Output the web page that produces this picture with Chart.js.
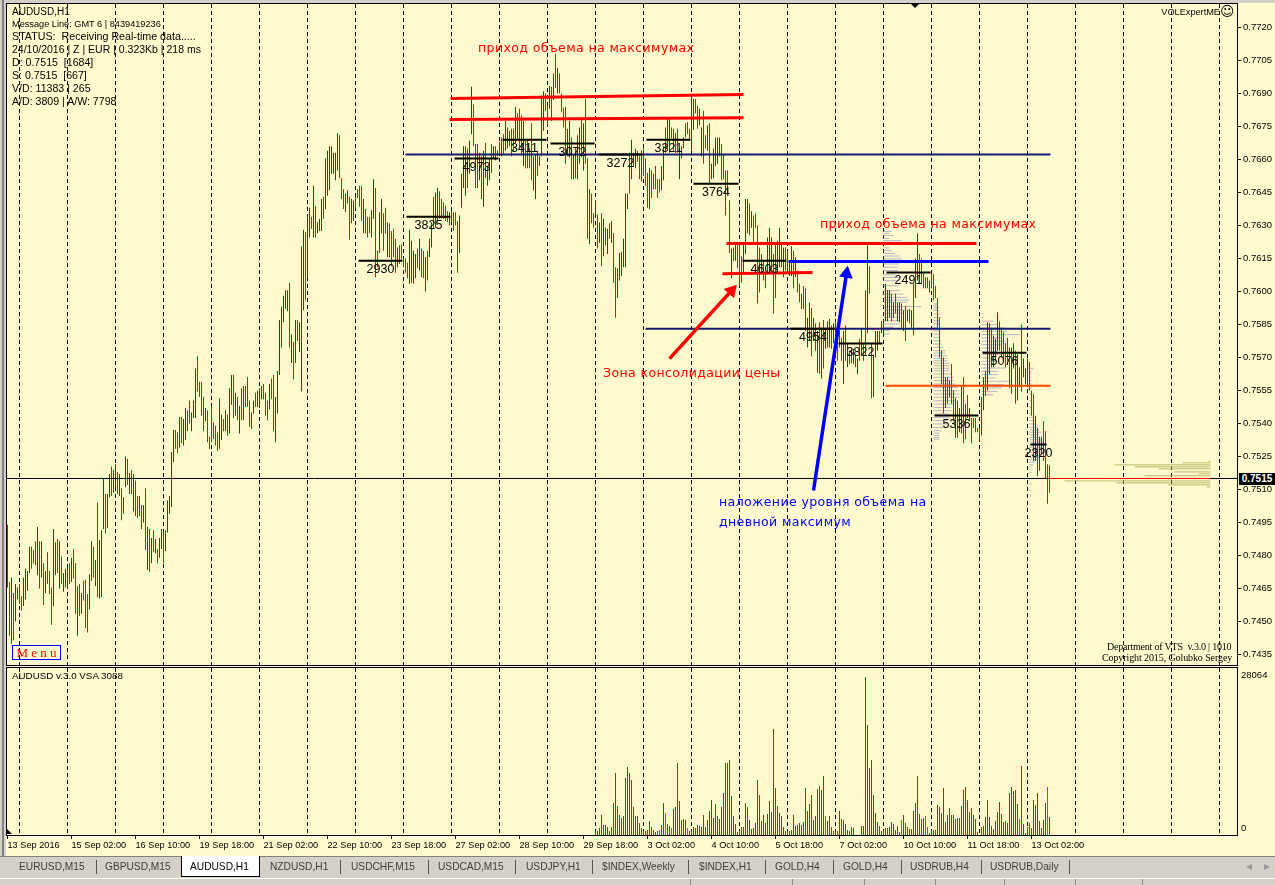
<!DOCTYPE html>
<html>
<head>
<meta charset="utf-8">
<title>AUDUSD,H1</title>
<script src="https://cdn.jsdelivr.net/npm/chart.js@4"></script>
<style>
body { margin: 0; width: 1275px; height: 885px; overflow: hidden; position: relative; background: #d4d0c8; font-family: "Liberation Sans", sans-serif; }
canvas { position: absolute; left: 0; }
#paper { position: absolute; left: 6px; top: 3px; width: 1269px; height: 853px; background: #fffacd; }
#edge { position: absolute; left: 2px; top: 0; width: 2px; height: 856px; background: #808080; }
.frame { position: absolute; left: 6px; width: 1230px; border: 1px solid #000; pointer-events: none; }
.t { position: absolute; white-space: pre; color: #000; line-height: 1; }
.note { font-family: "DejaVu Sans", sans-serif; font-size: 12.5px; letter-spacing: 0.4px; }
.tab { position: absolute; top: 861px; font-size: 10.2px; color: #404040; white-space: pre; }
.sep { position: absolute; top: 860px; width: 1px; height: 14px; background: #555; }
.sep2 { position: absolute; top: 879px; width: 1px; height: 6px; background: #888; }
.activeTab { position: absolute; left: 181px; top: 856px; width: 77px; height: 20px; background: #fff; border: 1px solid #000; border-top: none; }
</style>
</head>
<body>
<div id="edge"></div>
<div id="paper"></div>
<canvas id="mainChart" width="1275" height="666" style="top:0"></canvas>
<canvas id="volChart" width="1275" height="218" style="top:667px"></canvas>
<div class="frame" style="top:3px;height:661px"></div>
<div class="frame" style="top:667px;height:167px"></div>
<div id="overlay"></div>
<script>
// hourly bars, price in 1/100000
const barHigh = [
74940,74680,74700,74630,74670,74655,74670,74615,74700,74740,
74730,74840,74840,74825,74865,74930,74865,74865,74765,74730,
74815,74730,74655,74920,74860,74875,74865,74795,74720,74740,
74745,74765,74790,74830,74765,74660,74670,74630,74685,74690,
74625,74715,74865,74840,74780,75040,74870,74915,75150,75080,
75080,75170,75205,75190,75215,75180,75170,75105,75065,75250,
75240,75175,75190,75170,75140,75070,75070,75030,75030,75105,
74930,74920,74880,74915,74875,74830,74880,74920,74905,74915,
75050,75070,75270,75370,75370,75360,75430,75430,75420,75470,
75460,75505,75450,75505,75650,75705,75590,75590,75520,75470,
75460,75340,75480,75405,75390,75360,75515,75440,75420,75460,
75440,75560,75620,75620,75540,75520,75480,75560,75570,75570,
75610,75505,75450,75505,75540,75550,75560,75570,75580,75540,
75505,75580,75605,75620,75520,75640,75870,75930,75980,76005,
76005,76040,75805,75770,75870,75870,75860,76205,76280,76270,
76345,76380,76340,76480,76390,76315,76330,76420,76430,76605,
76640,76660,76660,76630,76630,76720,76710,76515,76465,76445,
76460,76430,76420,76415,76430,76465,76480,76480,76420,76375,
76340,76340,76370,76510,76470,76185,76360,76420,76355,76380,
76315,76310,76275,76285,76240,76200,76210,76215,76150,76150,
76130,76280,76230,76185,76170,76195,76240,76195,76185,76155,
76185,76240,76315,76430,76450,76470,76455,76420,76405,76390,
76365,76360,76365,76360,76360,76320,76345,76535,76660,76660,
76650,76685,76930,76850,76670,76670,76630,76615,76640,76675,
76570,76605,76670,76660,76660,76640,76680,76700,76715,76775,
76745,76730,76740,76740,76840,76810,76830,76800,76775,76685,
76685,76650,76765,76615,76625,76640,76615,76890,76910,76900,
76845,76935,76930,76990,77080,77015,76990,76900,76835,76840,
76740,76775,76700,76625,76655,76710,76745,76785,76765,76875,
76605,76465,76445,76355,76415,76350,76315,76355,76330,76290,
76285,76310,76320,76265,76110,76105,76175,76180,76240,76445,
76445,76630,76690,76630,76650,76640,76615,76640,76650,76605,
76540,76560,76550,76535,76570,76510,76510,76570,76660,76745,
76785,76785,76745,76740,76720,76740,76650,76660,76700,76765,
76770,76740,76880,76875,76875,76845,76830,76745,76820,76710,
76755,76765,76580,76650,76700,76700,76700,76670,76625,76550,
76550,76415,76195,76200,76215,76220,76215,76160,76215,76420,
76420,76400,76365,76345,76355,76300,76200,76170,76140,76080,
76245,76290,76245,76170,76220,76230,76290,76220,76200,76200,
76185,76140,76205,76185,76155,76095,76035,75990,76025,76015,
75880,75950,75925,75880,75855,75820,75860,75835,75870,75830,
75865,75875,75845,75855,75865,75835,75820,75790,75820,75845,
75765,75730,75740,75740,75710,75695,75785,75830,75765,76005,
76210,76115,75765,75715,75820,75820,75820,75865,75855,76035,
76005,76005,75990,75950,75990,75950,75950,75945,75915,75935,
75915,75920,75915,76035,76150,76265,76170,76150,76080,76065,
76065,76050,76080,76080,76025,75970,75880,75730,75700,75610,
75610,75595,75670,75550,75515,75505,75470,75570,75610,75490,
75530,75470,75425,75425,75425,75380,75380,75520,75610,75640,
75860,75855,75835,75800,75785,75905,75865,75835,75815,75765,
75790,75745,75745,75765,75730,75715,75655,75850,75695,75650,
75695,75680,75550,75535,75435,75380,75340,75340,75410,75365,
75215,75210];
const barLow = [
74655,74435,74400,74415,74500,74600,74580,74550,74570,74600,
74640,74720,74740,74765,74755,74710,74650,74700,74575,74630,
74670,74625,74485,74570,74710,74720,74650,74670,74635,74655,
74650,74670,74680,74695,74535,74435,74525,74535,74595,74470,
74450,74555,74685,74700,74660,74610,74605,74610,74920,74900,
74925,75065,75070,75085,75110,75080,75070,74960,74990,75110,
75120,75080,75080,75000,74980,74970,74980,74920,74950,74825,
74735,74725,74765,74815,74810,74765,74790,74830,74765,74820,
74905,74990,75020,75225,75285,75265,75290,75310,75300,75325,
75365,75400,75365,75425,75425,75545,75520,75435,75365,75410,
75315,75285,75315,75330,75300,75275,75285,75325,75365,75365,
75345,75355,75485,75425,75435,75415,75355,75415,75415,75475,
75475,75385,75375,75445,75475,75475,75470,75510,75510,75435,
75415,75465,75510,75365,75315,75445,75620,75745,75860,75920,
75910,75745,75675,75600,75675,75775,75725,75545,75915,75960,
76060,76245,76285,76245,76245,76265,76275,76275,76330,76375,
76435,76460,76535,76535,76505,76550,76515,76420,76375,76360,
76400,76235,76310,76320,76380,76425,76385,76320,76265,76265,
76245,76265,76245,76330,76065,76110,76175,76265,76185,76265,
76155,76155,76115,76155,76085,76110,76125,76145,76110,76085,
76060,76035,76040,76035,76060,76105,76095,76065,76060,76000,
76050,76155,76200,76285,76290,76315,76330,76330,76330,76320,
76315,76300,76315,76275,76300,76085,76175,76380,76470,76435,
76470,76535,76715,76660,76470,76470,76505,76420,76385,76515,
76480,76505,76540,76605,76595,76615,76615,76615,76625,76640,
76650,76660,76615,76640,76675,76685,76655,76625,76570,76560,
76560,76560,76505,76460,76420,76525,76570,76615,76730,76820,
76755,76830,76775,76870,76925,76900,76900,76815,76745,76580,
76615,76610,76510,76510,76515,76510,76580,76610,76550,76580,
76240,76215,76310,76290,76345,76195,76220,76115,76160,76210,
76170,76240,76220,76040,75880,75970,76050,76070,76110,76110,
76375,76445,76510,76570,76560,76590,76510,76500,76525,76480,
76380,76375,76425,76465,76465,76425,76450,76460,76505,76630,
76650,76630,76695,76640,76630,76630,76510,76605,76650,76700,
76715,76685,76640,76735,76810,76740,76755,76615,76580,76650,
76640,76490,76510,76515,76570,76580,76615,76505,76510,76345,
76450,76175,76060,76140,76140,76105,76025,76040,76080,76170,
76265,76255,76290,76215,76290,75945,75995,76080,76050,76015,
76080,76080,76080,75900,75970,76080,76110,76110,76065,76095,
76080,76070,76070,76015,76065,75995,75950,75920,75920,75820,
75745,75775,75705,75775,75730,75630,75625,75605,75650,75740,
75745,75745,75740,75765,75790,75685,75745,75685,75580,75685,
75655,75670,75675,75670,75655,75625,75685,75710,75685,75710,
75810,75990,75515,75520,75700,75730,75765,75810,75810,75865,
75865,75880,75865,75880,75900,75865,75860,75835,75820,75775,
75865,75855,75835,75800,75970,76050,76065,76035,76015,76015,
76015,75995,76015,75960,75970,75835,75700,75580,75445,75470,
75490,75520,75490,75410,75335,75335,75360,75355,75310,75330,
75425,75410,75310,75380,75360,75360,75320,75345,75460,75525,
75550,75625,75655,75655,75685,75730,75730,75700,75685,75655,
75685,75560,75535,75650,75490,75505,75565,75545,75610,75580,
75565,75550,75435,75230,75230,75160,75185,75260,75230,75150,
75035,75085];
// g = up bar, r = down bar
const barDir = ("rrgrggrrgg ggrrrgrgrg rrrggrgrgg grgrrgrgrr rggrgrgggr ggrggrgrgg rgrgrrgrgr grgrgrggrg " +
  "ggggrrgrgg rrgggrrrrg rrrrrrggrg rggrgrgrgr rrggrgggrr rgrrgggggg grgrgrgggr ggrgrgggrg " +
  "ggggggrrrg grggrgrrgr rrggrrggrr grrrrgrrrr rggggrgrrg rggrggrrrr rggrrrgggg rggrrrgrgr " +
  "ggrgrgrgrg grrrggrrgr rrrggrgggr rgrgrgrrrr ggrgrggrgr rgrrgrgrgr grgrrggggg grgggrrgrr " +
  "rgrrrrrggr ggrrrrgggr rrggrrggrr grgggggrrr rrgrgrrrgg grgrrrrgrr gggrrggrgr gggrgrrgrr " +
  "ggrgrgrgrg ggrggrgrgr grrgrgrgrr grrgggrggg ggrgrggrgr grgrggrrrr rgrrrrrrrg rgrrgrggrr " +
  "rgrrrrrggr ggrgggrrrr rrggrggrgg grrrgrggrr rr").replace(/ /g, "");

const priceTicks = [77200,77050,76900,76750,76600,76450,76300,76150,76000,75850,75700,75550,75400,75250,75100,74950,74800,74650,74500,74350];
const dateLabels = ["13 Sep 2016","15 Sep 02:00","16 Sep 10:00","19 Sep 18:00","21 Sep 02:00","22 Sep 10:00","23 Sep 18:00","27 Sep 02:00","28 Sep 10:00","29 Sep 18:00","3 Oct 02:00","4 Oct 10:00","5 Oct 18:00","7 Oct 02:00","10 Oct 10:00","11 Oct 18:00","13 Oct 02:00"];

// tick volume, only the newest bars have it
const volValues = [
710,710,1243,3552,1776,1776,1421,710,1421,5683,
11011,5150,3552,3019,3374,10123,12077,11011,9768,4973,
3374,3374,2131,1243,710,710,888,2486,1421,888,
533,710,888,1776,5683,3907,1954,1598,1243,4618,
4973,12787,6038,2664,2842,2664,1243,710,710,1421,
1243,1776,1598,1421,3552,1421,2664,4262,6216,3019,
5506,3374,2842,4973,7459,12787,12787,13320,6926,3374,
1954,533,710,1421,1421,5683,4973,2664,1066,1243,
2131,9768,7104,2486,3552,2131,3730,6038,4085,18826,
8347,5150,3907,3374,1421,710,710,710,888,3552,
1598,1776,2131,1776,2309,8347,4262,5506,7104,2664,
3374,8170,8702,7992,10478,3374,2486,3374,1421,710,
710,710,4262,2842,2664,1954,888,710,1421,1243,
0,0,0,1598,1598,28064,19536,11899,13320,7104,
3907,2309,1598,710,710,1243,1243,1421,2309,1954,
888,1598,533,2664,3552,2131,1421,1066,1066,4262,
5683,10478,3730,2842,3019,3374,1421,355,710,888,
888,5328,4973,3907,8347,2309,3552,4795,3552,3552,
2842,3019,3019,5150,7992,8525,6216,4085,4795,3552,
2842,533,0,1421,1598,3197,6216,3197,1598,1066,
2486,4085,5861,3730,2309,2486,2131,7459,8525,7814,
7992,5506,2842,12254,1954,355,1421,2131,1243,6216,
5328,7459,2486,1243,2664,5683,8525,3197];
const volDir = ("ggrrgggrgr rggrgggrgr rrrggrrggg rrmggmggmr rrgggrmrrg rrrrrgrrgg rggrrrrrgr grrgrggrgr " +
  "rrgrrrgggr gggrrggrgr grrrgrrgrg rrrggmgrgg rgrggrgrrg gggggggrrg gggggrggrr ggrmrggrgg " +
  "ggrrrmmrrr rrrrrggrrr ggggggrgrg rrrggrggrr ggrrrrrrgg rgmrgrgrrr grggrrmr").replace(/ /g, "");

// daily volume levels
const levelVolumes = ["2930","3825","4973","3411","3072","3272","3321","3764","4603","4954","3822","2491","5336","5076","2320"];
const levelStart = [175.5,199.5,223.5,247.5,271.5,295.5,319.5,343,367.5,391.5,415.5,439.5,463.5,487.5,511.5];
const levelEnd = [197.5,221.5,245.5,269.5,293.5,317.5,341.5,365.5,389.5,414,437.5,461.5,485.5,509.5,519.5];
const levelPrice = [76140,76340,76604,76690,76672,76622,76690,76490,76140,75831,75763,76086,75436,75722,75304];

// volume profiles: first bar, price of each row, row length in bars
const profileFirst = [438,463,487,511];
const profilePrices = [
  [76273,76264,76254,76241,76231,76198,76185,76173,76161,76148,76137,76125,76110,76095,76076,76064,76049,76026,76004,75988,75973,75961,75951,75931,75916,75901,75883,75867,75852,75837,75822,75807],
  [75943,75935,75928,75920,75913,75898,75882,75867,75852,75837,75822,75806,75791,75776,75761,75746,75731,75720,75708,75696,75685,75674,75663,75651,75640,75625,75610,75595,75579,75564,75549,75534,75519,75503,75488,75473,75458,75443,75428,75413,75398,75382,75367,75356,75345,75337,75329],
  [75898,75883,75865,75849,75834,75819,75804,75789,75774,75758,75743,75728,75713,75698,75683,75668,75652,75637,75622,75607,75592,75577,75562,75546,75531],
  [75648,75636,75625,75610,75595,75580,75565,75535,75504,75474,75443,75428,75413,75398,75383,75371,75360,75348,75337,75326,75315,75303,75292,75280,75269,75257,75246,75235,75224,75212,75201,75190,75178,75150,75125,75095,75072]
];
const profileLengths = [
  [4,3,5,3,9,3,4,6,8,9,8,8,7,7,6,8,7,8,8,10,12,13,12,19,13,10,8,8,8,5,3,3],
  [2,2,3,2,3,3,4,3,3,2,3,3,3,4,4,5,6,6,7,7,7,8,8,8,8,9,10,10,11,12,12,13,13,11,10,9,9,8,8,7,7,5,4,3,3,3,3],
  [1,1,6,8,12,13,19,10,12,10,8,8,10,7,8,6,12,8,8,7,15,11,10,8,6],
  [2,1,1,1,1,1,1,1,1,1,1,2,3,3,4,5,6,5,5,6,7,7,7,8,8,6,5,4,3,2,1,1,1,1,1,1,1]
];
// market profile at the right edge
const sidePrices = [75228,75221,75212,75203,75194,75180,75171,75162,75139,75130,75121,75112];
const sideLengths = [1,14,48,38,26,18,6,33,73,47,21,2];

const BG_GREEN = "#006400", BG_RED = "#ff0000", BG_MAGENTA = "#ff00ff";
const colorOf = { g: BG_GREEN, r: BG_RED };
const volColorOf = { g: "#008000", r: "#ff0000", m: BG_MAGENTA };
const X_MIN = -0.25, X_MAX = 614.75;
const SIDE_RIGHT = 601.5;

function gridBars() {
    const out = [];
    for (let i = 6; i < X_MAX; i += 24) out.push(i);
    return out;
}

function seg(a, ya, b, yb, color, width, extra) {
    return Object.assign({
        type: "line",
        data: [{ x: a, y: ya }, { x: b, y: yb }],
        borderColor: color,
        backgroundColor: color,
        borderWidth: width,
        pointRadius: 0,
        order: 1
    }, extra || {});
}

function rows(list, color, order, width) {
    return { type: "line", data: list, borderColor: color, borderWidth: width || 1, pointRadius: 0, spanGaps: false, order: order };
}

const profileRows = [];
profileFirst.forEach((first, p) => {
    profilePrices[p].forEach((price, k) => {
        profileRows.push({ x: first, y: price }, { x: first + profileLengths[p][k], y: price }, { x: first, y: null });
    });
});
const sideRows = [];
sidePrices.forEach((price, k) => {
    sideRows.push({ x: SIDE_RIGHT - sideLengths[k], y: price }, { x: SIDE_RIGHT, y: price }, { x: SIDE_RIGHT, y: null });
});
const levelRows = [];
levelVolumes.forEach((v, k) => {
    levelRows.push({ x: levelStart[k], y: levelPrice[k] }, { x: levelEnd[k], y: levelPrice[k] }, { x: levelEnd[k], y: null });
});

const levelLabelPlugin = {
    id: "levelLabels",
    afterDatasetsDraw(chart) {
        const c = chart.ctx;
        c.save();
        c.font = "12.5px 'Liberation Sans'";
        c.fillStyle = "#000";
        c.textAlign = "center";
        c.textBaseline = "middle";
        levelVolumes.forEach((v, k) => {
            const mid = (levelStart[k] + levelEnd[k]) / 2;
            c.fillText(v, chart.scales.x.getPixelForValue(mid), chart.scales.y.getPixelForValue(levelPrice[k]) + 8.5);
        });
        c.restore();
    }
};

new Chart(document.getElementById("mainChart"), {
    type: "bar",
    data: {
        datasets: [
            rows(profileRows, "#b4b4c8", 6),
            rows(sideRows, "#bdb76b", 6),
            {
                type: "bar",
                data: barHigh.map((h, i) => ({ x: i, y: [barLow[i], h] })),
                backgroundColor: barDir.split("").map(d => colorOf[d]),
                barThickness: 1,
                inflateAmount: 0,
                grouped: false,
                order: 5
            },
            seg(199, 76622, 521.5, 76622, "#191970", 2, { order: 4 }),
            seg(319, 75831, 521.5, 75831, "#191970", 2, { order: 4 }),
            seg(439, 75572, 521.5, 75572, "#ff4500", 2, { order: 4 }),
            seg(-0.25, 75150, 614.75, 75150, "#000", 1, { order: 3 }),
            seg(520.5, 75150, 601.5, 75150, "#ff0000", 1, { order: 2 }),
            rows(levelRows, "#000", 2, 2),
            seg(221.5, 76877, 368, 76895, "#ff0000", 3),
            seg(221, 76781, 368, 76790, "#ff0000", 3),
            seg(359.5, 76218, 484.5, 76218, "#ff0000", 3),
            seg(357.5, 76081, 402.5, 76086, "#ff0000", 3),
            seg(390.5, 76136, 490.5, 76136, "#0000ff", 3),
            seg(331, 75695, 362, 76004, "#ff0000", 3.5, { pointRadius: [0, 8], pointStyle: "triangle", pointRotation: 42, pointBorderWidth: 0 }),
            seg(403, 75095, 419.5, 76081, "#0000ff", 3.5, { pointRadius: [0, 8], pointStyle: "triangle", pointRotation: 9, pointBorderWidth: 0 })
        ]
    },
    plugins: [levelLabelPlugin],
    options: {
        responsive: false,
        animation: false,
        devicePixelRatio: 1,
        events: [],
        layout: { autoPadding: false, padding: { left: 7, top: 4, right: 0, bottom: 1 } },
        plugins: { legend: { display: false }, tooltip: { enabled: false } },
        scales: {
            x: {
                type: "linear",
                offset: false,
                min: X_MIN,
                max: X_MAX,
                afterBuildTicks: s => { s.ticks = gridBars().map(v => ({ value: v })); },
                afterFit: s => { s.height = 0; s.paddingLeft = 0; s.paddingRight = 0; },
                ticks: { display: false },
                grid: { offset: false, color: "#000", lineWidth: 1, drawTicks: false },
                border: { display: false, dash: [4, 3] }
            },
            y: {
                position: "right",
                min: 74302.4,
                max: 77306.4,
                afterBuildTicks: s => { s.ticks = priceTicks.map(v => ({ value: v })); },
                afterFit: s => { s.width = 38; s.paddingTop = 0; s.paddingBottom = 0; },
                ticks: {
                    color: "#000",
                    font: { family: "Liberation Sans", size: 9.5 },
                    padding: 2,
                    autoSkip: false,
                    callback: v => (v / 100000).toFixed(4)
                },
                grid: { drawOnChartArea: false, color: "#000", tickLength: 4 },
                border: { color: "#000" }
            }
        }
    }
});

const volAxisPlugin = {
    id: "volAxis",
    afterDraw(chart) {
        const c = chart.ctx;
        c.save();
        c.font = "9.5px 'Liberation Sans'";
        c.fillStyle = "#000";
        c.textBaseline = "middle";
        c.fillText("28064", 1241, chart.scales.y.getPixelForValue(28064) - 2);
        c.fillText("0", 1241, chart.scales.y.getPixelForValue(0) - 7);
        c.restore();
    }
};

const volFirst = barHigh.length - volValues.length;
new Chart(document.getElementById("volChart"), {
    type: "bar",
    data: {
        datasets: [{
            data: volValues.map((v, i) => ({ x: volFirst + i, y: v })),
            backgroundColor: volDir.split("").map(d => volColorOf[d]),
            barThickness: 1,
            inflateAmount: 0
        }]
    },
    plugins: [volAxisPlugin],
    options: {
        responsive: false,
        animation: false,
        devicePixelRatio: 1,
        events: [],
        layout: { autoPadding: false, padding: { left: 7, top: 1, right: 0, bottom: 0 } },
        plugins: { legend: { display: false }, tooltip: { enabled: false } },
        scales: {
            x: {
                type: "linear",
                offset: false,
                min: X_MIN,
                max: X_MAX,
                afterBuildTicks: s => { s.ticks = dateLabels.map((d, i) => ({ value: i * 32 })); },
                afterFit: s => { s.height = 50; s.paddingLeft = 0; s.paddingRight = 0; },
                ticks: {
                    color: "#000",
                    font: { family: "Liberation Sans", size: 9.2 },
                    align: "start",
                    padding: 1,
                    maxRotation: 0,
                    minRotation: 0,
                    autoSkip: false,
                    callback: v => dateLabels[v / 32]
                },
                grid: { offset: false, drawOnChartArea: false, color: "#000", tickLength: 4 },
                border: { color: "#000" }
            },
            xg: {
                type: "linear",
                position: "top",
                offset: false,
                min: X_MIN,
                max: X_MAX,
                afterBuildTicks: s => { s.ticks = gridBars().map(v => ({ value: v })); },
                afterFit: s => { s.height = 0; s.paddingLeft = 0; s.paddingRight = 0; },
                ticks: { display: false },
                grid: { offset: false, color: "#000", lineWidth: 1, drawTicks: false },
                border: { display: false, dash: [4, 3] }
            },
            y: {
                position: "right",
                min: 0,
                max: 29660,
                afterFit: s => { s.width = 38; s.paddingTop = 0; s.paddingBottom = 0; },
                ticks: { display: false },
                grid: { display: false },
                border: { color: "#000" }
            }
        }
    }
});

// texts on top of the chart
const infoLines = [
    ["AUDUSD,H1", 12, 7, 10],
    ["Message Line: GMT 6 | 8439419236", 12, 20, 9.2],
    ["STATUS:  Receiving Real-time data.....", 12, 31, 10.7],
    ["24/10/2016 | Z | EUR | 0.323Kb | 218 ms", 12, 44, 10.5],
    ["D: 0.7515  [1684]", 12, 57, 10.6],
    ["S: 0.7515  [667]", 12, 70, 10.6],
    ["V/D: 11383 | 265", 12, 83, 10.6],
    ["A/D: 3809 | A/W: 7798", 12, 96, 10.6],
    ["AUDUSD v.3.0 VSA 3088", 12, 671, 9.8]
];
const redNotes = [
    ["приход объема на максимумах", 478, 42, "#ff0000"],
    ["приход объема на максимумах", 820, 218, "#ff0000"],
    ["Зона консолидации цены", 603, 367, "#ff0000"],
    ["наложение уровня объема на", 719, 496, "#0000ff"],
    ["дневной максимум", 719, 516, "#0000ff"]
];
const tabNames = ["EURUSD,M15","GBPUSD,M15","AUDUSD,H1","NZDUSD,H1","USDCHF,M15","USDCAD,M15","USDJPY,H1","$INDEX,Weekly","$INDEX,H1","GOLD,H4","GOLD,H4","USDRUB,H4","USDRUB,Daily"];
const tabLeft = [19,105,190,270,351,438,526,602,699,775,843,910,990];
const tabSeps = [96,340,428,515,592,688,765,833,901,981,1069];
const statusSeps = [690,792,864,935,1004,1075,1142];

const overlay = document.getElementById("overlay");
function addDiv(html, css, cls) {
    const d = document.createElement("div");
    d.className = cls || "t";
    d.style.cssText = css;
    d.innerHTML = html;
    overlay.appendChild(d);
}
infoLines.forEach(l => addDiv(l[0], `left:${l[1]}px;top:${l[2]}px;font-size:${l[3]}px`));
redNotes.forEach(n => addDiv(n[0], `left:${n[1]}px;top:${n[2]}px;color:${n[3]}`, "t note"));

addDiv("VOLExpertME", "right:55px;top:8px;font-size:9.2px");
addDiv("☺", "left:1220px;top:4px;font-size:14px;font-family:'DejaVu Sans'");
addDiv("Department of VTS  v.3.0 | 1010", "left:1107px;top:642px;font-size:10px;font-family:'Liberation Serif';letter-spacing:-0.2px");
addDiv("Copyright 2015, Golubko Sergey", "left:1102px;top:653px;font-size:10px;font-family:'Liberation Serif';letter-spacing:-0.1px");
addDiv("M e n u", "left:12px;top:645px;width:47px;height:13px;border:1px solid #00f;color:#ff0000;font-family:'Liberation Serif';font-size:13px;text-align:center;line-height:14px");
addDiv("0.7515", "left:1239px;top:473px;width:36px;height:12px;background:#000;color:#fff;font-size:10px;line-height:12px;text-align:center;font-weight:bold");
// small markers on the chart frame
addDiv("", "left:910px;top:3px;width:0;height:0;border-left:5px solid transparent;border-right:5px solid transparent;border-top:5px solid #000");
addDiv("", "left:7px;top:829px;width:0;height:0;border-left:5px solid #000;border-top:5px solid transparent");
// tab strip
addDiv("", "left:0;top:856px;width:1275px;height:1px;background:#808080");
addDiv("", "left:0;top:878px;width:1275px;height:1px;background:#fff");
addDiv("", "", "activeTab");
tabNames.forEach((n, i) => addDiv(n, `left:${tabLeft[i]}px;${i == 2 ? "color:#000" : ""}`, "tab"));
tabSeps.forEach(x => addDiv("", `left:${x}px`, "sep"));
statusSeps.forEach(x => addDiv("", `left:${x}px`, "sep2"));
addDiv("◂", "left:1246px;top:860px;font-size:12px;color:#999");
addDiv("▸", "left:1264px;top:860px;font-size:12px;color:#999");
</script>
</body>
</html>
